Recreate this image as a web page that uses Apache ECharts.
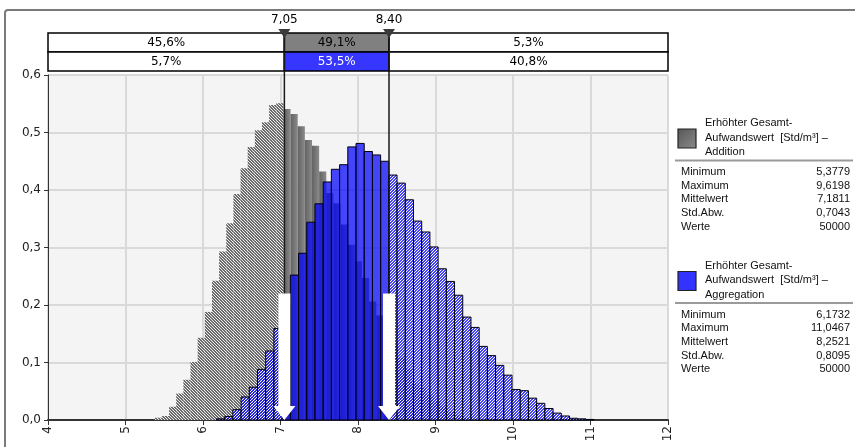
<!DOCTYPE html>
<html><head><meta charset="utf-8">
<script src="https://cdn.jsdelivr.net/npm/echarts@6/dist/echarts.min.js"></script>
<style>html,body{margin:0;padding:0;background:#fff}#c{width:855px;height:447px}</style>
</head><body><div id="c"></div>
<script>
// ---------------- data ----------------
const xTicks = [4, 5, 6, 7, 8, 9, 10, 11, 12];
const yMin = 0, yMax = 0.6, yStep = 0.1;
const markers = [7.05, 8.40];
const markerLabels = ['7,05', '8,40'];
const grayPct = ['45,6%', '49,1%', '5,3%'];
const bluePct = ['5,7%', '53,5%', '40,8%'];
const seriesNames = [
  ['Erhöhter Gesamt-', 'Aufwandswert  [Std/m³] –', 'Addition'],
  ['Erhöhter Gesamt-', 'Aufwandswert  [Std/m³] –', 'Aggregation']
];
const statLabels = ['Minimum', 'Maximum', 'Mittelwert', 'Std.Abw.', 'Werte'];
const grayStats = ['5,3779', '9,6198', '7,1811', '0,7043', '50000'];
const blueStats = ['6,1732', '11,0467', '8,2521', '0,8095', '50000'];
const grayRange = [5.3779, 9.6198];
const blueRange = [6.1732, 11.0467];
// histogram densities (46 equal bins between min and max)
const grayDensity = [0.004, 0.007, 0.023, 0.046, 0.070, 0.101, 0.143, 0.188, 0.242, 0.293,
  0.342, 0.393, 0.438, 0.475, 0.504, 0.518, 0.548, 0.551, 0.541, 0.532,
  0.511, 0.487, 0.477, 0.432, 0.395, 0.377, 0.340, 0.305, 0.276, 0.247,
  0.206, 0.182, 0.147, 0.128, 0.108, 0.089, 0.064, 0.056, 0.044, 0.033,
  0.023, 0.014, 0.008, 0.004, 0.002, 0.001];
const blueDensity = [0.002, 0.006, 0.018, 0.040, 0.057, 0.088, 0.120, 0.159, 0.205, 0.252,
  0.290, 0.344, 0.376, 0.414, 0.436, 0.444, 0.475, 0.481, 0.467, 0.461,
  0.450, 0.426, 0.412, 0.383, 0.346, 0.327, 0.301, 0.263, 0.241, 0.217,
  0.179, 0.161, 0.128, 0.112, 0.095, 0.078, 0.053, 0.051, 0.038, 0.029,
  0.020, 0.012, 0.007, 0.003, 0.002, 0.001];

// ---------------- helpers ----------------
function bins(range, dens) {
  const w = (range[1] - range[0]) / dens.length;
  return dens.map((d, i) => [range[0] + i * w, range[0] + (i + 1) * w, d]);
}
function hatch(bg, line, dir) {
  const n = 3, c = document.createElement('canvas');
  c.width = n; c.height = n;
  const g = c.getContext('2d');
  for (let x = 0; x < n; x++) for (let y = 0; y < n; y++) {
    const on = dir > 0 ? (x + y) % n === n - 1 : (x - y + n) % n === 0;
    g.fillStyle = on ? line : bg;
    g.fillRect(x, y, 1, 1);
  }
  return c;
}
const FONT = '"DejaVu Sans", Verdana, sans-serif';
const LFONT = '"Liberation Sans", Arial, sans-serif';
const grayHatch = { image: hatch('#6a6a6a', '#eeeeee', -1), repeat: 'repeat' };
const blueHatch = { image: hatch('rgba(0,0,250,0.72)', 'rgba(255,255,255,0.92)', 1), repeat: 'repeat' };
const blueSolid = 'rgba(0,0,250,0.72)';
const graySolid = { type: 'linear', x: 0, y: 0, x2: 1, y2: 0,
  colorStops: [{ offset: 0, color: '#626262' }, { offset: 1, color: '#8a8a8a' }] };

function histRender(kind) {
  return function (params, api) {
    const a = api.value(0), b = api.value(1), v = api.value(2);
    const cuts = [a].concat(markers.filter(m => m > a && m < b), [b]);
    const children = [];
    for (let i = 0; i < cuts.length - 1; i++) {
      const s = cuts[i], e = cuts[i + 1], mid = (s + e) / 2;
      const inside = mid > markers[0] && mid < markers[1];
      const p0 = api.coord([s, v]), p1 = api.coord([e, 0]);
      const shape = { x: p0[0], y: p0[1], width: p1[0] - p0[0], height: p1[1] - p0[1] };
      let style;
      if (kind === 'gray') style = { fill: inside ? graySolid : grayHatch, stroke: null };
      else style = { fill: inside ? blueSolid : blueHatch, stroke: '#000010', lineWidth: 1 };
      children.push({ type: 'rect', shape: shape, style: style });
    }
    return { type: 'group', children: children };
  };
}

function overlayRender(params, api) {
  const p0 = api.coord([xTicks[0], yMin]), p1 = api.coord([xTicks[xTicks.length - 1], yMax]);
  const left = p0[0], bottom = p0[1], right = p1[0], top = p1[1];
  const mx = markers.map(m => api.coord([m, yMin])[0]);
  const children = [];
  const rh = 19;
  const cellX = [left, mx[0], mx[1], right];
  const rows = [
    { y: top - 42, pct: grayPct, mid: '#808080', midText: '#000' },
    { y: top - 23, pct: bluePct, mid: '#3636ff', midText: '#fff' }
  ];
  rows.forEach(r => {
    for (let i = 0; i < 3; i++) {
      children.push({ type: 'rect', shape: { x: cellX[i], y: r.y, width: cellX[i + 1] - cellX[i], height: rh },
        style: { fill: i === 1 ? r.mid : '#fff', stroke: '#000', lineWidth: 1.5 } });
      children.push({ type: 'text', style: { text: r.pct[i], x: (cellX[i] + cellX[i + 1]) / 2, y: r.y + rh / 2 + 0.5,
        align: 'center', verticalAlign: 'middle', fill: i === 1 ? r.midText : '#000', fontSize: 12, fontFamily: FONT } });
    }
  });
  const arrowTop = 0.22;
  mx.forEach((x, i) => {
    children.push({ type: 'line', shape: { x1: x, y1: top - 40, x2: x, y2: bottom }, style: { stroke: '#1a1a1a', lineWidth: 1.5 } });
    children.push({ type: 'polygon', shape: { points: [[x - 6, top - 46], [x + 6, top - 46], [x, top - 37]] }, style: { fill: '#3a3a3a' } });
    children.push({ type: 'text', style: { text: markerLabels[i], x: x, y: top - 55, align: 'center', verticalAlign: 'middle',
      fill: '#000', fontSize: 12, fontFamily: FONT } });
    const at = api.coord([markers[i], arrowTop])[1];
    children.push({ type: 'polygon', shape: { points: [[x - 6, at], [x + 6, at], [x + 6, bottom - 14], [x + 11, bottom - 14],
      [x, bottom], [x - 11, bottom - 14], [x - 6, bottom - 14]] }, style: { fill: '#ffffff' } });
  });
  return { type: 'group', children: children };
}

// legend graphics
const graphic = [
  { type: 'rect', shape: { x: 5, y: 10, width: 900, height: 500, r: 3 }, style: { fill: null, stroke: '#7a7a7a', lineWidth: 2 }, z: 100 }
];
function legendBlock(names, stats, y0, swatchFill) {
  graphic.push({ type: 'rect', shape: { x: 678, y: y0 + 6, width: 18, height: 19 }, style: { fill: swatchFill, stroke: '#222', lineWidth: 1.2 } });
  names.forEach((t, i) => graphic.push({ type: 'text', style: { text: t, x: 705, y: y0 + i * 14.5, verticalAlign: 'middle',
    fontSize: 11, fontFamily: LFONT, fill: '#111' } }));
  graphic.push({ type: 'line', shape: { x1: 675, y1: y0 + 37.5, x2: 853, y2: y0 + 37.5 }, style: { stroke: '#9a9a9a', lineWidth: 2 } });
  statLabels.forEach((t, i) => {
    const y = y0 + 49 + i * 13.7;
    graphic.push({ type: 'text', style: { text: t, x: 681, y: y, verticalAlign: 'middle', fontSize: 11, fontFamily: LFONT, fill: '#111' } });
    graphic.push({ type: 'text', style: { text: stats[i], x: 850, y: y, align: 'right', verticalAlign: 'middle', fontSize: 11, fontFamily: LFONT, fill: '#111' } });
  });
}
legendBlock(seriesNames[0], grayStats, 123, { type: 'linear', x: 0, y: 0, x2: 1, y2: 1, colorStops: [{ offset: 0, color: '#555' }, { offset: 1, color: '#8c8c8c' }] });
legendBlock(seriesNames[1], blueStats, 265.5, '#3333ff');

const chart = echarts.init(document.getElementById('c'), null, { renderer: 'canvas' });
chart.setOption({
  animation: false,
  backgroundColor: '#ffffff',
  grid: { left: 48, right: 187, top: 75, bottom: 27, show: true, backgroundColor: '#f4f4f4', borderWidth: 0, outerBoundsMode: 'none' },
  xAxis: {
    type: 'value', min: xTicks[0], max: xTicks[xTicks.length - 1], interval: 1,
    axisLine: { show: true, onZero: false, lineStyle: { color: '#333', width: 2 } },
    axisTick: { show: true, length: 5, lineStyle: { color: '#333', width: 1 } },
    axisLabel: { rotate: 90, margin: 6, color: '#222', fontSize: 12, fontFamily: FONT, showMinLabel: true, showMaxLabel: true },
    splitLine: { show: true, lineStyle: { color: '#d9d9d9', width: 2 } }
  },
  yAxis: {
    type: 'value', min: yMin, max: yMax, interval: yStep,
    axisLine: { show: true, lineStyle: { color: '#333', width: 1 } },
    axisTick: { show: true, length: 4, lineStyle: { color: '#333' } },
    axisLabel: { margin: 7, color: '#222', fontSize: 12, fontFamily: FONT, formatter: v => v.toFixed(1).replace('.', ',') },
    splitLine: { show: true, lineStyle: { color: '#d9d9d9', width: 2 } }
  },
  graphic: graphic,
  series: [
    { type: 'custom', name: 'Addition', renderItem: histRender('gray'), data: bins(grayRange, grayDensity), encode: { x: [0, 1], y: 2 }, z: 2, clip: false },
    { type: 'custom', name: 'Aggregation', renderItem: histRender('blue'), data: bins(blueRange, blueDensity), encode: { x: [0, 1], y: 2 }, z: 3, clip: false },
    { type: 'custom', name: 'overlay', renderItem: overlayRender, data: [[markers[0], 0]], encode: { x: 0, y: 1 }, z: 4, clip: false, silent: true }
  ]
});
</script>
</body></html>
